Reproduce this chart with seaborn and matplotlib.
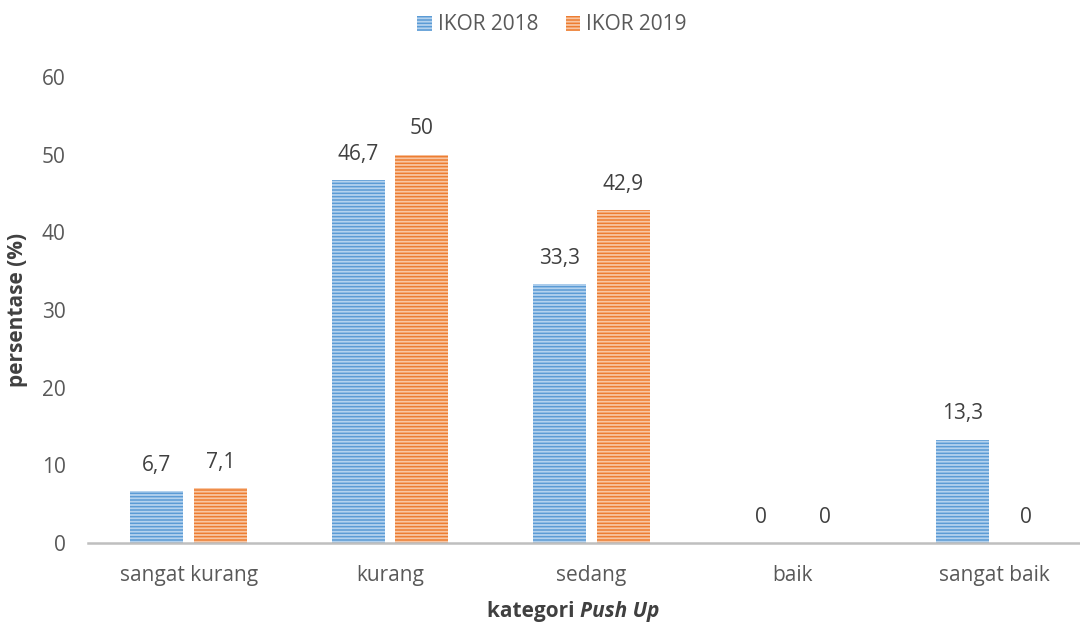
import matplotlib
matplotlib.use("Agg")
import matplotlib.pyplot as plt
import seaborn as sns
import pandas as pd
from matplotlib.patches import Patch

categories = ["sangat kurang", "kurang", "sedang", "baik", "sangat baik"]
ikor_2018 = [6.7, 46.7, 33.3, 0, 13.3]
ikor_2019 = [7.1, 50, 42.9, 0, 0]
series_names = ["IKOR 2018", "IKOR 2019"]
yticks = [0, 10, 20, 30, 40, 50, 60]

df = pd.DataFrame({
    "kategori": categories * 2,
    "nilai": ikor_2018 + ikor_2019,
    "seri": [series_names[0]] * len(categories) + [series_names[1]] * len(categories),
})

sns.set_theme(style="white")
plt.rcParams["font.family"] = ["Open Sans", "DejaVu Sans"]
plt.rcParams["hatch.linewidth"] = 1.3

colors = ["#5B9BD5", "#ED7D31"]
hatch_colors = ["#B4D2EE", "#F8C6A3"]
text_col = "#595959"
fs = 15

fig = plt.figure(figsize=(10.8, 6.24), dpi=100)
ax = fig.add_axes([88 / 1080, 1 - 543 / 624, 1007 / 1080, (543 - 77) / 624])

sns.barplot(data=df, x="kategori", y="nilai", hue="seri", palette=colors,
            width=0.63, gap=0.165, ax=ax, legend=False, saturation=1)

for i, cont in enumerate(ax.containers):
    for bar in cont:
        bar.set_hatch("-----")
        bar.set_edgecolor(hatch_colors[i])
        bar.set_linewidth(0)
    vals = ikor_2018 if i == 0 else ikor_2019
    labels = [("%g" % v).replace(".", ",") for v in vals]
    ax.bar_label(cont, labels=labels, padding=11, fontsize=fs, color="#404040")

ax.set_ylim(0, 60)
ax.set_yticks(yticks)
ax.set_xlim(-0.5, 4.5)
for s in ["top", "right", "left"]:
    ax.spines[s].set_visible(False)
ax.spines["bottom"].set_color("#BFBFBF")
ax.spines["bottom"].set_linewidth(1.8)
ax.tick_params(axis="both", length=0, labelsize=fs, colors=text_col)
ax.tick_params(axis="x", pad=16)
ax.tick_params(axis="y", pad=16)
ax.set_xlabel("")
ax.set_ylabel("persentase (%)", fontsize=fs, fontweight="bold", color="#404040")
ax.yaxis.set_label_coords((28 - 88) / 1007, 0.5)

t1 = fig.text(487 / 1080, 1 - 611 / 624, "kategori ", fontsize=fs, fontweight="bold",
              color="#404040", va="center", ha="left")
ax.annotate("Push Up", xy=(1, 0.5), xycoords=t1, va="center", ha="left",
            fontsize=fs, fontweight="bold", fontstyle="italic", color="#404040",
            annotation_clip=False)

handles = [Patch(facecolor=colors[i], edgecolor=hatch_colors[i], hatch="-----", linewidth=0)
           for i in range(2)]
fig.legend(handles, series_names, loc="center", bbox_to_anchor=(552 / 1080, 1 - 25 / 624),
           ncol=2, frameon=False, fontsize=fs, labelcolor=text_col,
           handlelength=0.7, handleheight=0.7, handletextpad=0.3, columnspacing=1.3)

fig.savefig("out.png", dpi=100)
